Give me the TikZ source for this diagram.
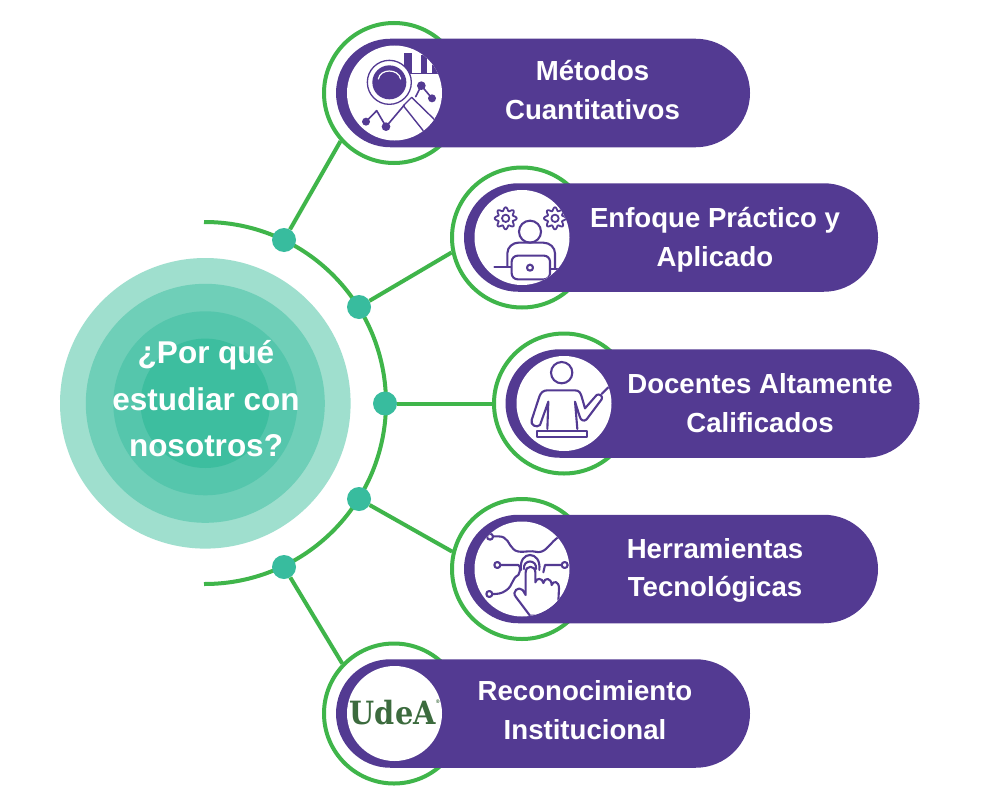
\documentclass[tikz,border=0pt]{standalone}
\usepackage{fontspec}
\setmainfont{Liberation Sans}
\newfontfamily\logofont{DejaVu Serif}
\usetikzlibrary{shapes.misc}
\definecolor{purp}{HTML}{533A92}
\definecolor{grn}{HTML}{3FB54A}
\definecolor{teal}{HTML}{38BC9E}
\definecolor{tA}{HTML}{9FDFCE}
\definecolor{tB}{HTML}{6FCFB8}
\definecolor{tC}{HTML}{55C6AC}
\definecolor{tD}{HTML}{3DBE9F}
\definecolor{logo}{HTML}{3C6B3E}
\tikzset{
  ringnode/.style={circle,draw=grn,line width=4pt,minimum size=140pt,inner sep=0pt},
  pillnode/.style={rounded rectangle,fill=purp,minimum height=108.5pt,minimum width=414pt,inner sep=0pt},
  disc/.style={circle,fill=white,minimum size=95pt,inner sep=0pt},
  label/.style={text=white,align=center,font=\bfseries\fontsize{27.6}{38.8}\selectfont,inner sep=0pt},
  hub/.style={circle,inner sep=0pt,minimum size=#1},
  dot/.style={circle,fill=teal,minimum size=24pt,inner sep=0pt},
  link/.style={draw=grn,line width=4pt},
  ic/.style={draw=purp,line width=2.1pt,line cap=round,line join=round},
  zoomed/.style={x=0.33333pt,y=-0.33333pt}
}
\newcommand{\ugear}[2]{%
  \draw[ic,line width=1.8pt] plot[domain=0:360,samples=121,smooth] ({#1+(28+5*cos(8*\x))*cos(\x)},{#2+(28+5*cos(8*\x))*sin(\x)}) -- cycle;
  \draw[ic,line width=1.8pt] (#1,#2) circle[radius=11];}
\begin{document}
\begin{tikzpicture}[x=1pt,y=-1pt]
\useasboundingbox (0,0) rectangle (1000,800);
\fill[white] (0,0) rectangle (1000,800);

% hub circles
\node[hub=290.6pt,fill=tA] (h1) at (205.3,403.3) {};
\node[hub=239pt,fill=tB] (h2) at (205.3,403.3) {};
\node[hub=184pt,fill=tC] (h3) at (205.3,403.3) {};
\node[hub=129.4pt,fill=tD] (h4) at (205.3,403.3) {};

% rings, pills
\node[ringnode] (r1) at (394,93) {};
\node[ringnode] (r2) at (522,237.5) {};
\node[ringnode] (r3) at (564,403.5) {};
\node[ringnode] (r4) at (522,569) {};
\node[ringnode] (r5) at (394,713.5) {};
\node[pillnode] (p1) at (543,93) {};
\node[pillnode] (p2) at (671,237.5) {};
\node[pillnode] (p3) at (712.5,403.5) {};
\node[pillnode] (p4) at (671,569) {};
\node[pillnode] (p5) at (543,713.5) {};
\node[disc] (d1) at (394.5,93) {};
\node[disc] (d2) at (522,237.5) {};
\node[disc] (d3) at (564,403.5) {};
\node[disc] (d4) at (522,569) {};
\node[disc] (d5) at (394.5,713.5) {};

% icon 1: analysis
\begin{scope}
\clip (394.5,93) circle[radius=47.5];
\begin{scope}[shift={(345,45)},zoomed]
\fill[purp] (177,25) rectangle (200,85);
\fill[purp] (228,30) rectangle (245,85);
\fill[purp] (262,60) rectangle (285,85);
\draw[ic,line width=1.2pt] (177,85) -- (285,85);
\draw[ic,fill=white,line width=1.4pt] (200,157) -- (285,240) -- (245,270) -- (175,182) -- cycle;
\draw[ic,line width=1.6pt] (63,230) -- (95,197) -- (123,245) -- (178,180);
\draw[ic,line width=1.6pt] (212,155) -- (229,122) -- (261,160);
\fill[purp] (63,230) circle[radius=12];
\fill[purp] (123,245) circle[radius=13];
\fill[purp] (229,122) circle[radius=13];
\fill[purp] (261,160) circle[radius=12];
\draw[ic,fill=white,line width=1.3pt] (133,112) circle[radius=66];
\fill[purp] (133,112) circle[radius=51];
\draw[white,line width=1.2pt,line cap=round] (100,102) .. controls (106,70) and (160,70) .. (167,102);
\end{scope}
\end{scope}

% icon 2: person with laptop
\begin{scope}
\clip (522,237.5) circle[radius=47.5];
\begin{scope}[shift={(450,165)},zoomed]
\ugear{167}{160}
\ugear{315}{160}
\draw[ic] (240,200) circle[radius=33];
\draw[ic] (172,305) -- (172,265) .. controls (172,245) and (190,233) .. (205,233) -- (280,233) .. controls (300,233) and (315,248) .. (315,265) -- (315,312);
\draw[ic] (133,307) -- (185,307);
\draw[ic] (300,313) -- (330,313);
\draw[ic,fill=white,rounded corners=6pt] (185,272) rectangle (300,343);
\draw[ic] (240,308) circle[radius=9];
\end{scope}
\end{scope}

% icon 3: teacher
\begin{scope}
\clip (564,403.5) circle[radius=47.5];
\begin{scope}[shift={(490,330)},zoomed]
\draw[ic] (215,128) circle[radius=32];
\draw[ic] (172,297) -- (175,215) -- (150,285) .. controls (140,295) and (120,285) .. (125,270) -- (148,200) .. controls (152,188) and (160,181) .. (172,181) -- (255,181) .. controls (268,181) and (272,190) .. (275,200) -- (285,235) -- (320,195) .. controls (328,190) and (340,198) .. (335,208) -- (290,268) .. controls (282,276) and (272,270) .. (270,262) -- (255,215) -- (262,297);
\draw[ic] (335,192) -- (355,172);
\draw[ic] (140,302) rectangle (290,320);
\end{scope}
\end{scope}

% icon 4: touch network
\begin{scope}
\clip (522,569) circle[radius=47.5];
\begin{scope}[shift={(450,495)},zoomed]
\draw[ic] (129,124) -- (145,124) .. controls (175,124) and (175,150) .. (190,162) .. controls (205,178) and (235,165) .. (255,170) .. controls (285,178) and (295,150) .. (320,130) -- (345,118);
\draw[ic] (151,210) -- (205,210) .. controls (212,215) and (212,225) .. (205,240) .. controls (185,250) and (190,270) .. (170,285) .. controls (155,297) and (140,297) .. (127,297);
\draw[ic] (353,210) -- (285,210) -- (280,232);
\draw[ic] (213,225) .. controls (205,165) and (275,165) .. (268,225);
\draw[ic] (222,222) .. controls (218,192) and (262,192) .. (258,222);
\draw[ic,fill=white] (120,125) circle[radius=9];
\draw[ic,fill=white] (142,210) circle[radius=9];
\draw[ic,fill=white] (118,297) circle[radius=9];
\draw[ic,fill=white] (344,210) circle[radius=9];
\draw[ic,fill=white] (227,300) -- (227,232) .. controls (227,210) and (256,210) .. (256,232) -- (256,262) .. controls (258,248) and (278,248) .. (280,264) .. controls (284,246) and (304,248) .. (305,270) .. controls (310,256) and (327,258) .. (327,280) -- (325,320) -- (310,362) -- (240,362) -- (197,305) .. controls (185,290) and (205,272) .. (218,285) -- cycle;
\end{scope}
\end{scope}

% logo
\node[text=logo,inner sep=0pt,xscale=.9,font=\logofont\bfseries\fontsize{32}{32}\selectfont] (udea) at (395,712.5) {UdeA\smash{\raisebox{21pt}{\fontsize{5}{5}\selectfont ®}}};

% labels
\node[label] (t1) at (592.5,90) {Métodos\\Cuantitativos};
\node[label] (t2) at (715,240) {Enfoque Práctico y\\Aplicado};
\node[label] (t3) at (760,403.5) {Docentes Altamente\\Calificados};
\node[label] (t4) at (715,570.5) {Herramientas\\Tecnológicas};
\node[label] (t5) at (585,710) {Reconocimiento\\Institucional};
\node[label,font=\bfseries\fontsize{31.5}{46.5}\selectfont] (tc) at (206,399) {¿Por qué\\estudiar con\\nosotros?};

% arc and connectors
\coordinate (arcS) at (204,222);
\coordinate (arcE) at (204,584);
\draw[link] (arcS) -- plot[domain=-89:89,samples=70,smooth] ({205+181*cos(\x)},{403+181*sin(\x)}) -- (arcE);
\node[dot] (k1) at (284,240) {};
\node[dot] (k2) at (359,307) {};
\node[dot] (k3) at (385,403.5) {};
\node[dot] (k4) at (359,499) {};
\node[dot] (k5) at (284,567) {};
\draw[link] (k1) -- (r1.222);
\draw[link] (k2) -- (r2.192.5);
\draw[link] (k3) -- (r3.west);
\draw[link] (k4) -- (r4.166);
\draw[link] (k5) -- (r5.136);
\end{tikzpicture}
\end{document}
